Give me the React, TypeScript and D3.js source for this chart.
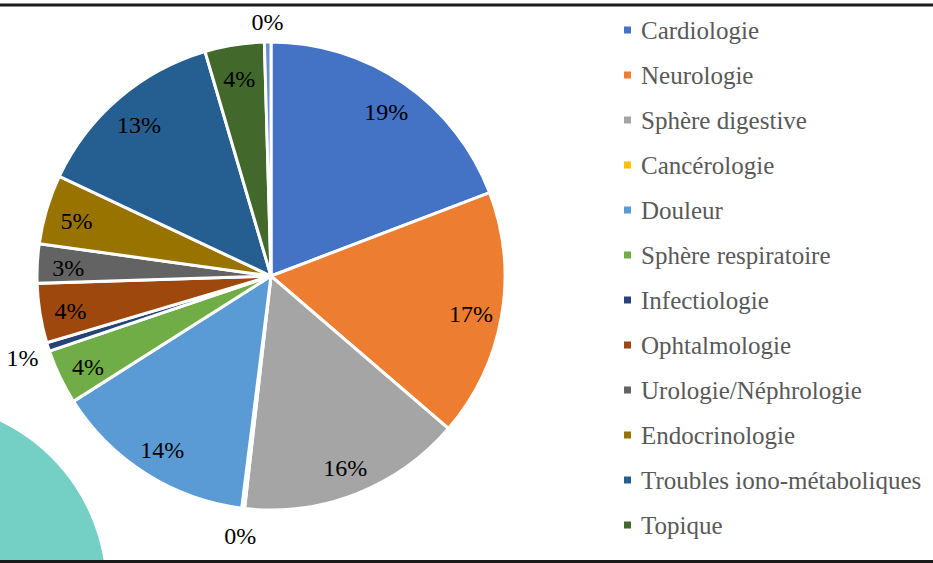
import React from "react";
import * as d3 from "d3";

const categories = [
  "Cardiologie",
  "Neurologie",
  "Sphère digestive",
  "Cancérologie",
  "Douleur",
  "Sphère respiratoire",
  "Infectiologie",
  "Ophtalmologie",
  "Urologie/Néphrologie",
  "Endocrinologie",
  "Troubles iono-métaboliques",
  "Topique",
  "",
];

const values = [19.2, 17.1, 15.5, 0.2, 14.0, 3.8, 0.6, 4.1, 2.7, 4.8, 13.45, 4.1, 0.45];

const colors = [
  "#4472C4",
  "#ED7D31",
  "#A5A5A5",
  "#FFC000",
  "#5B9BD5",
  "#70AD47",
  "#264478",
  "#9E480E",
  "#636363",
  "#997300",
  "#255E91",
  "#43682B",
  "#698ED0",
];

const legendCount = 12;

export default function App() {
  const W = 933;
  const H = 563;
  const cx = 271;
  const cy = 276;
  const R = 234;
  const total = d3.sum(values);
  const data = values.map((v, i) => ({ v, i }));
  const pie = d3
    .pie<{ v: number; i: number }>()
    .sort(null)
    .value((d) => d.v)
    .startAngle(0)
    .endAngle(2 * Math.PI);
  const arcs = pie(data);
  const arc = d3.arc<d3.PieArcDatum<{ v: number; i: number }>>().innerRadius(0).outerRadius(R);

  const legendY = d3.scalePoint<number>().domain(d3.range(legendCount)).range([30, 525]);

  return (
    <svg
      width={W}
      height={H}
      style={{ position: "absolute", left: 0, top: 0, display: "block", background: "#fff" }}
      fontFamily="'Liberation Serif', 'Times New Roman', serif"
    >
      <circle cx={-81} cy={590} r={187} fill="#74CFC4" />
      <g transform={`translate(${cx},${cy})`}>
        {arcs.map((a) => (
          <path key={a.data.i} d={arc(a) || ""} fill={colors[a.data.i]} stroke="#fff" strokeWidth={3} strokeLinejoin="miter" />
        ))}
        {arcs.map((a) => {
          const pct = (a.data.v / total) * 100;
          const label = `${Math.round(pct)}%`;
          const mid = (a.startAngle + a.endAngle) / 2;
          const s = Math.sin(mid);
          const c = Math.cos(mid);
          let r: number;
          if (pct < 1) {
            const w = label.length * 12;
            const h = 22;
            r = R + 12 + Math.abs(s) * (w / 2) + Math.abs(c) * (h / 2);
          } else {
            r = 203;
          }
          return (
            <text
              key={"l" + a.data.i}
              x={r * s}
              y={-r * c + 3}
              textAnchor="middle"
              dominantBaseline="central"
              fontSize={24}
              fill="#000"
            >
              {label}
            </text>
          );
        })}
      </g>
      {categories.slice(0, legendCount).map((name, i) => (
        <g key={"lg" + i} transform={`translate(624,${legendY(i)})`}>
          <rect x={0} y={-3.5} width={7} height={7} fill={colors[i]} />
          <text x={17} y={0} dominantBaseline="central" fontSize={25} fill="#595959">
            {name}
          </text>
        </g>
      ))}
      <line x1={0} x2={W} y1={5} y2={5} stroke="#1a1a1a" strokeWidth={3} />
      <line x1={0} x2={W} y1={561.5} y2={561.5} stroke="#1a1a1a" strokeWidth={3} />
    </svg>
  );
}
